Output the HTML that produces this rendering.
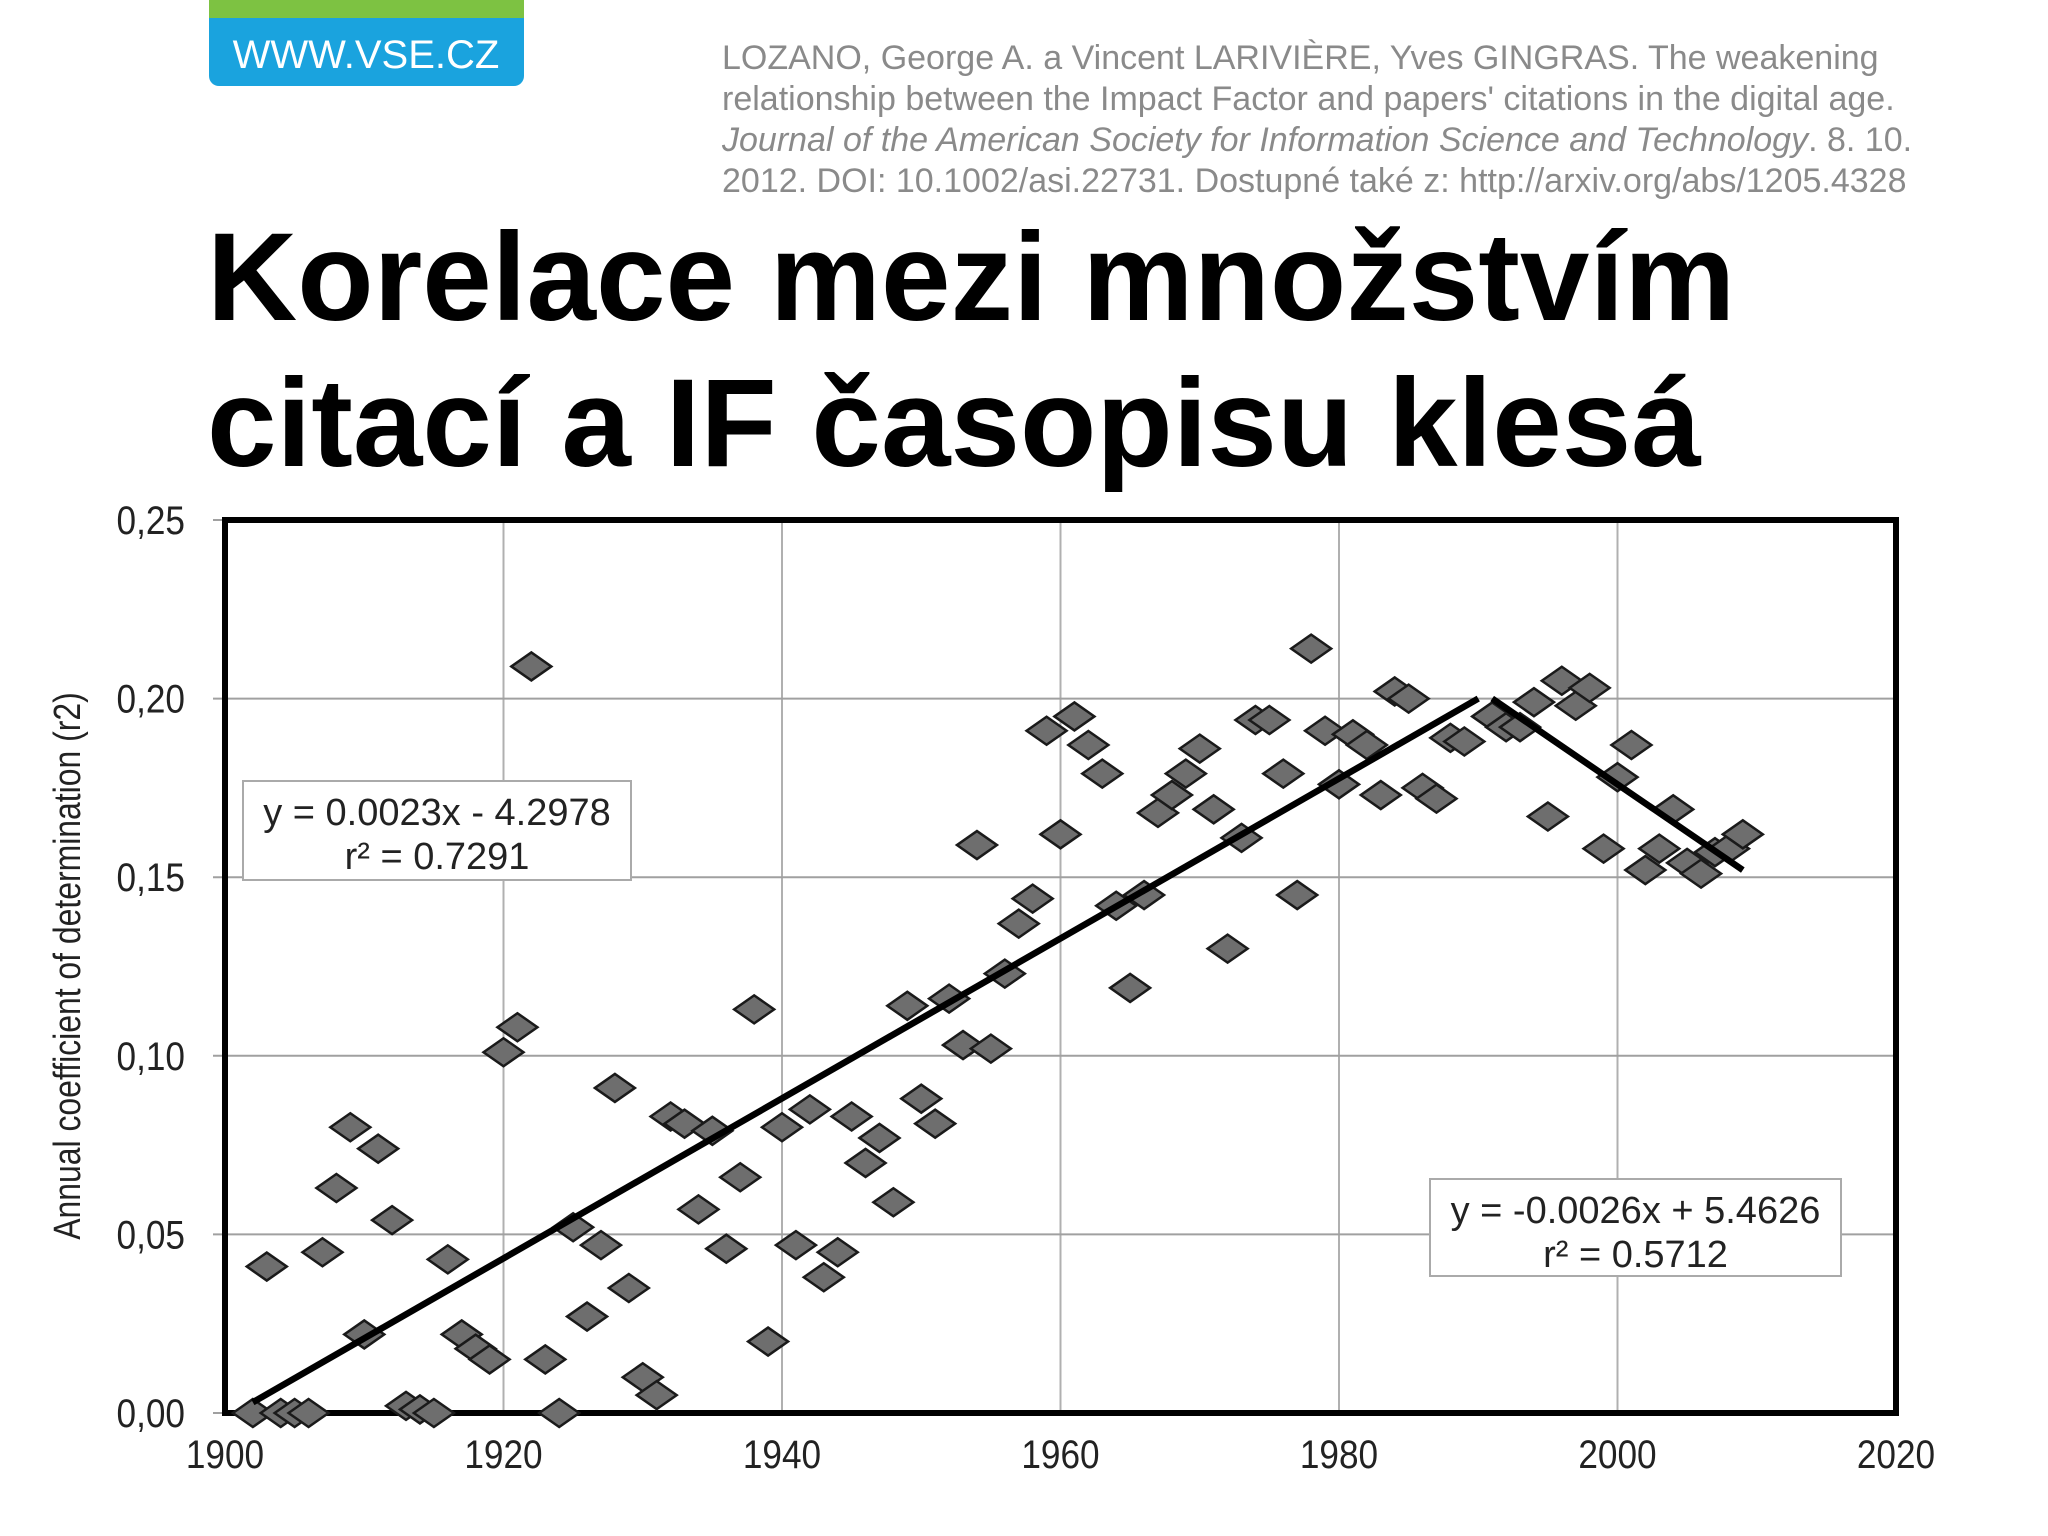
<!DOCTYPE html>
<html><head><meta charset="utf-8"><style>
html,body{margin:0;padding:0;background:#fff;}
svg{display:block;font-family:"Liberation Sans",sans-serif;}
</style></head><body>
<svg id="s" width="2048" height="1536" viewBox="0 0 2048 1536" xmlns="http://www.w3.org/2000/svg">
<g>
<rect x="209" y="0" width="315" height="22" fill="#7dc242"/>
<rect x="209" y="18" width="315" height="68" rx="10" fill="#1aa3de"/>
<rect x="209" y="18" width="315" height="12" fill="#1aa3de"/>
<text x="366" y="68" font-size="40" fill="#fff" text-anchor="middle">WWW.VSE.CZ</text>
</g>
<g font-size="34" fill="#8a8a8a">
<text x="722" y="69">LOZANO, George A. a Vincent LARIVIÈRE, Yves GINGRAS. The weakening</text>
<text x="722" y="110">relationship between the Impact Factor and papers' citations in the digital age.</text>
<text x="722" y="151"><tspan font-style="italic">Journal of the American Society for Information Science and Technology</tspan>. 8. 10.</text>
<text x="722" y="192">2012. DOI: 10.1002/asi.22731. Dostupné také z: http://arxiv.org/abs/1205.4328</text>
</g>
<g font-size="125" font-weight="bold" fill="#000">
<text x="207" y="320">Korelace mezi množstvím</text>
<text x="207" y="466">citací a IF časopisu klesá</text>
</g>
<g id="chart"></g>
</svg>
<script>
const years=[1902,1903,1904,1905,1906,1907,1908,1909,1910,1911,1912,1913,1914,1915,1916,1917,1918,1919,1920,1921,1922,1923,1924,1925,1926,1927,1928,1929,1930,1931,1932,1933,1934,1935,1936,1937,1938,1939,1940,1941,1942,1943,1944,1945,1946,1947,1948,1949,1950,1951,1952,1953,1954,1955,1956,1957,1958,1959,1960,1961,1962,1963,1964,1965,1966,1967,1968,1969,1970,1971,1972,1973,1974,1975,1976,1977,1978,1979,1980,1981,1982,1983,1984,1985,1986,1987,1988,1989,1991,1992,1993,1994,1995,1996,1997,1998,1999,2000,2001,2002,2003,2004,2005,2006,2007,2008,2009];
const r2=[0.0,0.041,0,0,0,0.045,0.063,0.080,0.022,0.074,0.054,0.002,0.001,0,0.043,0.022,0.018,0.015,0.101,0.108,0.209,0.015,0,0.052,0.027,0.047,0.091,0.035,0.010,0.005,0.083,0.081,0.057,0.079,0.046,0.066,0.113,0.020,0.080,0.047,0.085,0.038,0.045,0.083,0.070,0.077,0.059,0.114,0.088,0.081,0.116,0.103,0.159,0.102,0.123,0.137,0.144,0.191,0.162,0.195,0.187,0.179,0.142,0.119,0.145,0.168,0.173,0.179,0.186,0.169,0.130,0.161,0.194,0.194,0.179,0.145,0.214,0.191,0.176,0.190,0.187,0.173,0.202,0.200,0.175,0.172,0.189,0.188,0.195,0.192,0.192,0.199,0.167,0.205,0.198,0.203,0.158,0.178,0.187,0.152,0.158,0.169,0.154,0.151,0.157,0.158,0.162];
const xTicks=[1900,1920,1940,1960,1980,2000,2020];
const yTicks=[0,0.05,0.10,0.15,0.20,0.25];
const yTickLabels=["0,00","0,05","0,10","0,15","0,20","0,25"];
const trend1=[[1902,0.003],[1990,0.200]];
const trend2=[[1991,0.200],[2009,0.152]];
const L=225,R=1896,T=520,B=1413;
const X=v=>L+(v-1900)/(2020-1900)*(R-L);
const Y=v=>B-(v/0.25)*(B-T);
const NS="http://www.w3.org/2000/svg";
const g=document.getElementById('chart');
function mk(t,a,p){const e=document.createElementNS(NS,t);for(const k in a)e.setAttribute(k,a[k]);(p||g).appendChild(e);return e;}
mk('rect',{x:L,y:T,width:R-L,height:B-T,fill:'#fff'});
xTicks.forEach(t=>{const e=mk('line',{x1:X(t),x2:X(t),y1:T,y2:B,stroke:'#b0b0b0','stroke-width':2});


const tx=mk('text',{x:X(t),y:B+55,'font-size':40,'text-anchor':'middle',fill:'#222',transform:`translate(${X(t)},0) scale(0.88,1) translate(${-X(t)},0)`});tx.textContent=t;

});
yTicks.forEach((t,i)=>{const e=mk('line',{x1:L-12,x2:R,y1:Y(t),y2:Y(t),stroke:'#a0a0a0','stroke-width':2});


const tx=mk('text',{x:185,y:Y(t)+14,'font-size':40,'text-anchor':'end',fill:'#222',transform:`translate(185,0) scale(0.88,1) translate(-185,0)`});tx.textContent=yTickLabels[i];

});
const fr=mk('rect',{x:L,y:T,width:R-L,height:B-T,fill:'none',stroke:'#000','stroke-width':6});


const yt=mk('text',{x:0,y:0,'font-size':38,'text-anchor':'middle',fill:'#222',transform:'translate(80,966) rotate(-90) scale(0.84,1)'});
yt.textContent='Annual coefficient of determination (r2)';


years.forEach((yr,i)=>{const cx=X(yr),cy=Y(r2[i]);
const d=mk('polygon',{points:`${cx-20},${cy} ${cx},${cy-14} ${cx+20},${cy} ${cx},${cy+14}`,fill:'#6e6e6e',stroke:'#1a1a1a','stroke-width':2.5});

});
[trend1,trend2].forEach(tr=>{const l=mk('line',{x1:X(tr[0][0]),y1:Y(tr[0][1]),x2:X(tr[1][0]),y2:Y(tr[1][1]),stroke:'#000','stroke-width':6.5});

});
function box(x,y,w,h,l1,l2){const gg=mk('g',{});


mk('rect',{x,y,width:w,height:h,fill:'#fff',stroke:'#aaa','stroke-width':2},gg);
const a=mk('text',{x:x+w/2,y:y+44,'font-size':38,'text-anchor':'middle',fill:'#222'},gg);a.textContent=l1;
const b=mk('text',{x:x+w/2,y:y+88,'font-size':38,'text-anchor':'middle',fill:'#222'},gg);b.textContent=l2;}
box(243,781,388,99,'y = 0.0023x - 4.2978','r² = 0.7291');
box(1430,1179,411,97,'y = -0.0026x + 5.4626','r² = 0.5712');
</script>
</body></html>
